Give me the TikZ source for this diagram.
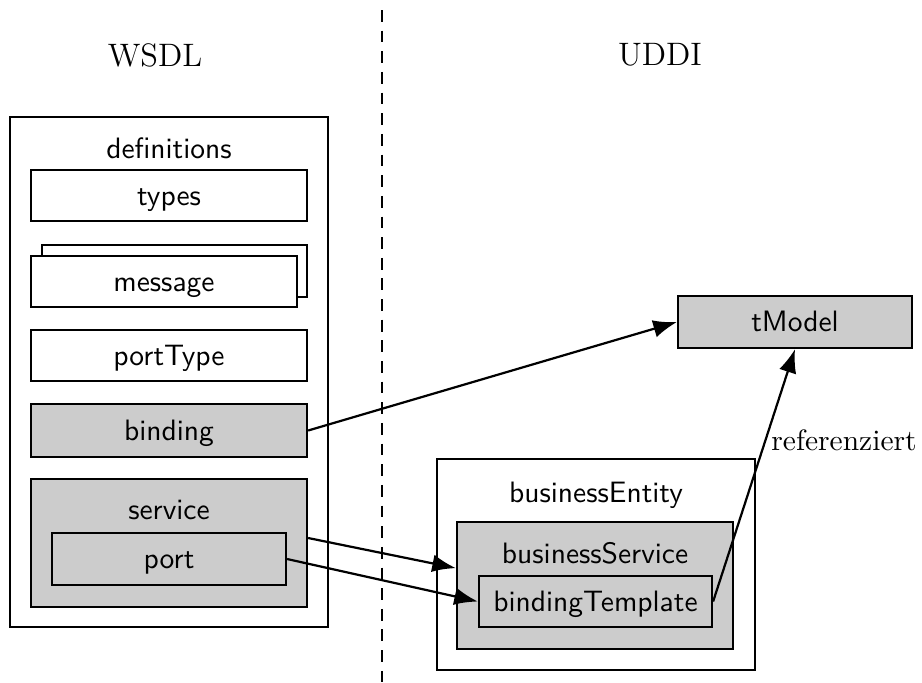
\documentclass[tikz,border=0pt]{standalone}
\usetikzlibrary{arrows.meta,fit}
\begin{document}
\begin{tikzpicture}[x=0.339pt,y=-0.339pt,
  pane/.style={draw, line width=0.75pt, fill=white, inner sep=0pt},
  shaded/.style={pane, fill=black!20},
  caption/.style={font=\sffamily, inner sep=0pt, anchor=center},
  boxtext/.style={caption, text height=6.6pt, text depth=0pt},
  head/.style={font=\fontsize{11}{13}\selectfont, inner sep=0pt},
  link/.style={line width=0.75pt, -{Latex[length=8pt,width=6pt]}}]
\useasboundingbox (0,0) rectangle (922,682);

% column separator and column titles
\coordinate (septop) at (382,10);
\coordinate (sepbot) at (382,682);
\draw[dashed, line width=0.75pt, dash pattern=on 4pt off 3pt] (septop) -- (sepbot);
\node[head] (wsdl) at (155,55) {WSDL};
\node[head] (uddi) at (660,55) {UDDI};

% WSDL document structure
\node[pane, fit={(10,117) (328,627)}] (defs) {};
\node[caption] (defstitle) at (169,148) {definitions};
\node[pane, fit={(31,170) (307,221)}] (types) {};
\node[boxtext] at (types.center) {types};
\node[pane, fit={(42,245) (307,297)}] (msgback) {};
\node[pane, fit={(31,256) (297,307)}] (message) {};
\node[boxtext] at (message.center) {message};
\node[pane, fit={(31,330) (307,381)}] (porttype) {};
\node[boxtext] at (porttype.center) {portType};
\node[shaded, fit={(31,404) (307,457)}] (binding) {};
\node[boxtext] at (binding.center) {binding};
\node[shaded, fit={(31,479) (307,607)}] (service) {};
\node[caption] (servicetitle) at (169,510) {service};
\node[shaded, fit={(52,533) (286,585)}] (port) {};
\node[boxtext] at (port.center) {port};

% UDDI data structure
\node[shaded, fit={(678,296) (912,348)}] (tmodel) {};
\node[boxtext] at (tmodel.center) {tModel};
\node[pane, fit={(437,459) (755,670)}] (bentity) {};
\node[caption] (bentitytitle) at (596,495) {businessEntity};
\node[shaded, fit={(457,522) (733,649)}] (bservice) {};
\node[caption] (bservicetitle) at (595,553) {businessService};
\node[shaded, fit={(479,576) (712,627)}] (btemplate) {};
\node[boxtext] at (btemplate.center) {bindingTemplate};

% mappings
\draw[link] (binding.east) -- (tmodel.west);
\draw[link] ([yshift=1.7pt]service.east) -- ([yshift=5.9pt]bservice.west);
\draw[link] (port.east) -- (btemplate.west);
\draw[link] (btemplate.east) -- (tmodel.south);
\node[inner sep=0pt] (refers) at (844,440) {referenziert};
\end{tikzpicture}
\end{document}
